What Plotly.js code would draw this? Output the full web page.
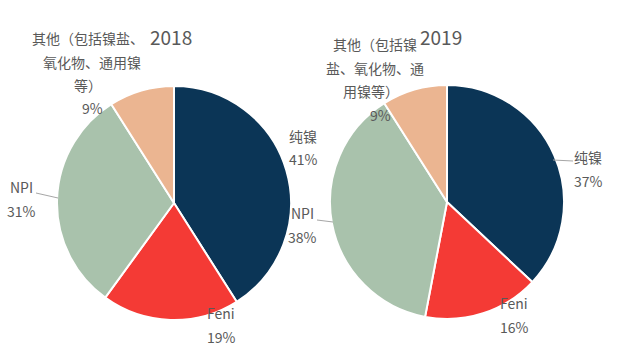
<!DOCTYPE html>
<html>
<head>
<meta charset="utf-8">
<script src="https://cdn.plot.ly/plotly-3.0.1.min.js"></script>
<style>html,body{margin:0;padding:0;background:#fff;}#chart{width:631px;height:353px;}</style>
</head>
<body>
<div id="chart"></div>
<script>
const categories = ['纯镍', 'Feni', 'NPI', '其他（包括镍盐、氧化物、通用镍等）'];
const labels2018 = ['纯镍', 'Feni', 'NPI', '其他（包括镍盐、|氧化物、通用镍|等）'];
const labels2019 = ['纯镍', 'Feni', 'NPI', '其他（包括镍|盐、氧化物、通|用镍等）'];
const values2018 = [41, 19, 31, 9];
const values2019 = [37, 16, 38, 9];
const years = ['2018', '2019'];
const colors = ['#0B3556', '#F43A35', '#A9C2AC', '#EBB591'];

const W = 631, H = 353;
const fam = '"Microsoft YaHei", "Noto Sans CJK SC", sans-serif';
const font = {family: fam, size: 14, color: '#595959'};
const px = x => x / W, py = y => 1 - y / H;

function pie(values, labels, dx, dy) {
  return {
    type: 'pie', values: values, labels: labels.map(l => l.replace(/\|/g, '')), sort: false,
    direction: 'clockwise', rotation: 0,
    marker: {colors: colors, line: {color: '#ffffff', width: 2}},
    textinfo: 'none', domain: {x: dx, y: dy}, showlegend: false, hoverinfo: 'label+value'
  };
}

const data = [
  pie(values2018, labels2018, [px(57), px(291)], [py(320), py(86)]),
  pie(values2019, labels2019, [px(330), px(564)], [py(319), py(85)])
];

// label anchor positions (pixel centres of the first line) for each slice, per pie
const labelPos = [
  [[303, 136], [221, 313], [21, 187], [88, 38]],
  [[588, 157], [514, 303], [302, 213], [375, 44]]
];
const lineGap = 23.5;
const annotations = [];
[[labels2018, values2018], [labels2019, values2019]].forEach(([labs, vals], p) => {
  labs.forEach((lab, i) => {
    const lines = lab.split('|').concat([vals[i] + '%']);
    const [cx, cy] = labelPos[p][i];
    lines.forEach((t, k) => {
      let xoff = 0;
      if (p === 0 && i === 3) xoff = [0, 4, 0, 4][k];
      if (p === 1 && i === 3) xoff = [0, 0, -4, 5][k];
      annotations.push({text: t, x: px(cx + xoff), y: py(cy + k * lineGap), xref: 'paper', yref: 'paper',
        xanchor: 'center', yanchor: 'middle', showarrow: false, font: font});
    });
  });
});
annotations.push({text: years[0], x: px(171), y: py(36), xref: 'paper', yref: 'paper', showarrow: false,
  xanchor: 'center', yanchor: 'middle', font: {family: fam, size: 19, color: '#595959'}});
annotations.push({text: years[1], x: px(441), y: py(37), xref: 'paper', yref: 'paper', showarrow: false,
  xanchor: 'center', yanchor: 'middle', font: {family: fam, size: 19, color: '#595959'}});

const leader = [[36, 193, 58, 198], [317, 220, 333, 222], [553, 160, 573, 161]];
const shapes = leader.map(([x0, y0, x1, y1]) => ({type: 'line', xref: 'paper', yref: 'paper',
  x0: px(x0), y0: py(y0), x1: px(x1), y1: py(y1), line: {color: '#A6A6A6', width: 1}}));

const layout = {
  width: W, height: H, margin: {l: 0, r: 0, t: 0, b: 0},
  paper_bgcolor: '#ffffff', plot_bgcolor: '#ffffff',
  font: font, showlegend: false, annotations: annotations, shapes: shapes
};

Plotly.newPlot('chart', data, layout, {displayModeBar: false, staticPlot: true});
</script>
</body>
</html>
